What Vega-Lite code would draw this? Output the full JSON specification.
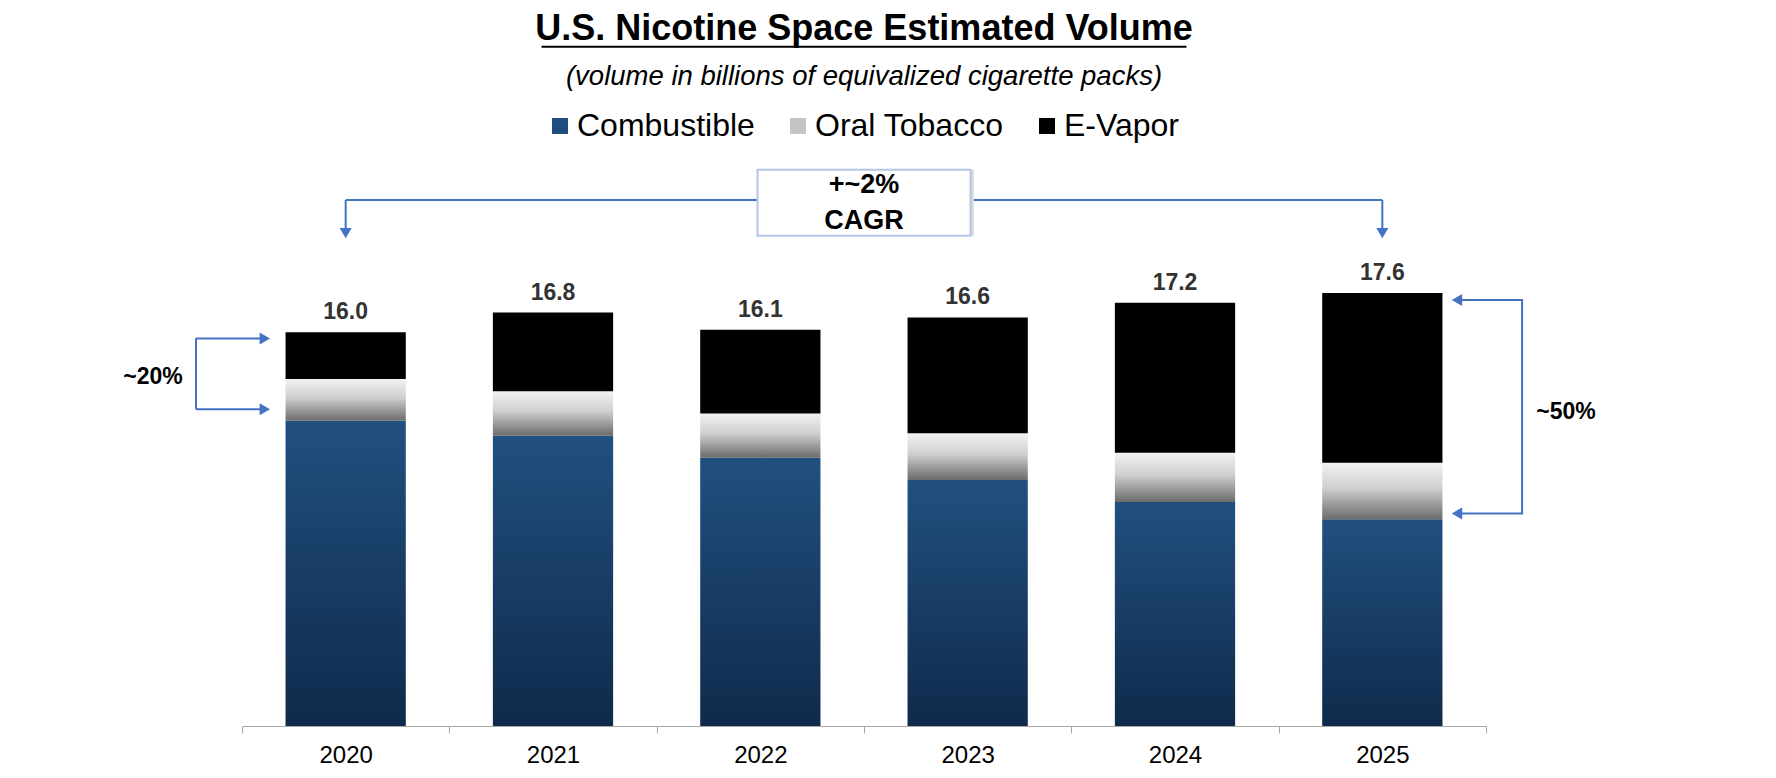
{
  "$schema": "https://vega.github.io/schema/vega-lite/v6.json",
  "autosize": "none",
  "width": 1244,
  "height": 566,
  "padding": {"left": 242, "top": 160, "right": 290, "bottom": 52},
  "background": "#ffffff",
  "config": {"view": {"stroke": null}, "font": "Liberation Sans"},
  "title": {
    "text": "U.S. Nicotine Space Estimated Volume",
    "subtitle": "(volume in billions of equivalized cigarette packs)",
    "anchor": "middle",
    "frame": "group",
    "font": "Liberation Sans",
    "fontSize": 36,
    "fontWeight": "bold",
    "color": "#000000",
    "subtitleFont": "Liberation Sans",
    "subtitleFontSize": 27.5,
    "subtitleFontStyle": "italic",
    "subtitleColor": "#000000",
    "subtitlePadding": 15,
    "offset": -48.5
  },
  "datasets": {
    "volume": [
      {"year": "2020", "category": "Combustible", "rank": 1, "value": 12.4},
      {"year": "2020", "category": "Oral Tobacco", "rank": 2, "value": 1.7},
      {"year": "2020", "category": "E-Vapor", "rank": 3, "value": 1.9},
      {"year": "2021", "category": "Combustible", "rank": 1, "value": 11.8},
      {"year": "2021", "category": "Oral Tobacco", "rank": 2, "value": 1.8},
      {"year": "2021", "category": "E-Vapor", "rank": 3, "value": 3.2},
      {"year": "2022", "category": "Combustible", "rank": 1, "value": 10.9},
      {"year": "2022", "category": "Oral Tobacco", "rank": 2, "value": 1.8},
      {"year": "2022", "category": "E-Vapor", "rank": 3, "value": 3.4},
      {"year": "2023", "category": "Combustible", "rank": 1, "value": 10.0},
      {"year": "2023", "category": "Oral Tobacco", "rank": 2, "value": 1.9},
      {"year": "2023", "category": "E-Vapor", "rank": 3, "value": 4.7},
      {"year": "2024", "category": "Combustible", "rank": 1, "value": 9.1},
      {"year": "2024", "category": "Oral Tobacco", "rank": 2, "value": 2.0},
      {"year": "2024", "category": "E-Vapor", "rank": 3, "value": 6.1},
      {"year": "2025", "category": "Combustible", "rank": 1, "value": 8.4},
      {"year": "2025", "category": "Oral Tobacco", "rank": 2, "value": 2.3},
      {"year": "2025", "category": "E-Vapor", "rank": 3, "value": 6.9}
    ],
    "cagrLine": [{"from": "2020", "to": "2025", "y": 21.37}],
    "cagrDrops": [{"year": "2020", "y": 21.37, "y2": 20.03}, {"year": "2025", "y": 21.37, "y2": 20.03}],
    "box": [{"year": "2022", "y": 21.26}],
    "boxText": [{"year": "2022", "y": 21.98, "text": "+~2%"}, {"year": "2022", "y": 20.53, "text": "CAGR"}],
    "leftBracket": [{"year": "2020", "top": 15.75, "bottom": 12.87}],
    "leftEnds": [{"year": "2020", "y": 15.75}, {"year": "2020", "y": 12.87}],
    "leftLabel": [{"year": "2020", "y": 14.19, "text": "~20%"}],
    "rightBracket": [{"year": "2025", "top": 17.31, "bottom": 8.64}],
    "rightEnds": [{"year": "2025", "y": 17.31}, {"year": "2025", "y": 8.64}],
    "rightLabel": [{"year": "2025", "y": 12.77, "text": "~50%"}],
    "underline": [{"year": "2022", "y": 27.6}]
  },
  "layer": [
    {
      "data": {"name": "volume"},
      "mark": {"type": "bar", "width": {"band": 0.58}},
      "encoding": {
        "x": {
          "field": "year", "type": "nominal",
          "scale": {"type": "band", "domain": ["2020", "2021", "2022", "2023", "2024", "2025"], "paddingInner": 0, "paddingOuter": 0},
          "axis": {"title": null, "orient": "bottom", "labelAngle": 0, "domainColor": "#a6a6a6", "domainWidth": 1, "tickColor": "#a6a6a6", "tickSize": 7, "tickBand": "extent", "labelFontSize": 24, "labelFont": "Liberation Sans", "labelColor": "#000000", "labelPadding": 10, "grid": false}
        },
        "y": {"field": "value", "type": "quantitative", "stack": "zero", "scale": {"domain": [0, 23], "nice": false}, "axis": null},
        "order": {"field": "rank", "type": "quantitative", "sort": "ascending"},
        "color": {
          "field": "category", "type": "nominal",
          "sort": ["Combustible", "Oral Tobacco", "E-Vapor"],
          "scale": {"domain": ["Combustible", "Oral Tobacco", "E-Vapor"], "range": ["#1f4e7e", "#c4c4c4", "#000000"]},
          "condition": [
            {"test": "datum.category === 'Combustible'", "value": {"gradient": "linear", "x1": 0, "y1": 0, "x2": 0, "y2": 1, "stops": [{"offset": 0, "color": "#21507f"}, {"offset": 1, "color": "#0f2a4b"}]}},
            {"test": "datum.category === 'Oral Tobacco'", "value": {"gradient": "linear", "x1": 0, "y1": 0, "x2": 0, "y2": 1, "stops": [{"offset": 0, "color": "#f2f2f2"}, {"offset": 0.45, "color": "#cfcfcf"}, {"offset": 1, "color": "#6b6b6b"}]}}
          ],
          "legend": {
            "orient": "none", "legendX": 302, "legendY": -50, "direction": "horizontal", "title": null,
            "symbolType": "square", "symbolSize": 256, "symbolStrokeWidth": 0,
            "labelFontSize": 32, "labelFont": "Liberation Sans", "labelColor": "#000000", "labelOffset": 1, "labelLimit": 0, "columnPadding": 27,
            "encode": {"symbols": {"update": {"fill": [
              {"test": "datum.value === 'Combustible'", "value": {"gradient": "linear", "x1": 0, "y1": 0, "x2": 0, "y2": 1, "stops": [{"offset": 0, "color": "#24558a"}, {"offset": 1, "color": "#142f55"}]}},
              {"test": "datum.value === 'Oral Tobacco'", "value": {"gradient": "linear", "x1": 0, "y1": 0, "x2": 0, "y2": 1, "stops": [{"offset": 0, "color": "#f2f2f2"}, {"offset": 0.5, "color": "#c8c8c8"}, {"offset": 1, "color": "#6b6b6b"}]}},
              {"value": "#000000"}
            ]}}}
          }
        }
      }
    },
    {
      "data": {"name": "volume"},
      "mark": {"type": "text", "fontSize": 23, "fontWeight": "bold", "color": "#333333", "baseline": "alphabetic", "dy": -13, "font": "Liberation Sans"},
      "encoding": {
        "x": {"field": "year", "type": "nominal"},
        "y": {"aggregate": "sum", "field": "value", "type": "quantitative", "axis": null},
        "text": {"aggregate": "sum", "field": "value", "type": "quantitative", "format": ".1f"}
      }
    },
    {
      "data": {"name": "cagrLine"},
      "mark": {"type": "rule", "color": "#4472c4", "strokeWidth": 2},
      "encoding": {
        "x": {"field": "from", "type": "nominal"},
        "x2": {"field": "to"},
        "y": {"field": "y", "type": "quantitative", "axis": null}
      }
    },
    {
      "data": {"name": "cagrDrops"},
      "mark": {"type": "rule", "color": "#4472c4", "strokeWidth": 2},
      "encoding": {
        "x": {"field": "year", "type": "nominal"},
        "y": {"field": "y", "type": "quantitative", "axis": null},
        "y2": {"field": "y2"}
      }
    },
    {
      "data": {"name": "cagrDrops"},
      "mark": {"type": "point", "shape": "triangle-down", "filled": true, "size": 144, "color": "#4472c4", "opacity": 1},
      "encoding": {
        "x": {"field": "year", "type": "nominal"},
        "y": {"field": "y2", "type": "quantitative", "axis": null}
      }
    },
    {
      "data": {"name": "box"},
      "mark": {"type": "point", "shape": "M-1,-0.31L1,-0.31L1,0.31L-1,0.31Z", "size": 45369, "filled": true, "color": "#d9d9d9", "strokeWidth": 0, "opacity": 1},
      "encoding": {
        "x": {"field": "year", "type": "nominal", "bandPosition": 1.016},
        "y": {"field": "y", "type": "quantitative", "axis": null}
      }
    },
    {
      "data": {"name": "box"},
      "mark": {"type": "point", "shape": "M-1,-0.31L1,-0.31L1,0.31L-1,0.31Z", "size": 45369, "filled": true, "fill": "#ffffff", "stroke": "#b4c6e7", "strokeWidth": 2, "opacity": 1},
      "encoding": {
        "x": {"field": "year", "type": "nominal", "bandPosition": 1.0},
        "y": {"field": "y", "type": "quantitative", "axis": null}
      }
    },
    {
      "data": {"name": "boxText"},
      "mark": {"type": "text", "fontSize": 27, "fontWeight": "bold", "color": "#000000", "baseline": "middle", "font": "Liberation Sans"},
      "encoding": {
        "x": {"field": "year", "type": "nominal", "bandPosition": 1.0},
        "y": {"field": "y", "type": "quantitative", "axis": null},
        "text": {"field": "text"}
      }
    },
    {
      "data": {"name": "leftBracket"},
      "mark": {"type": "rule", "color": "#4472c4", "strokeWidth": 2},
      "encoding": {
        "x": {"field": "year", "type": "nominal", "bandPosition": -0.222},
        "y": {"field": "top", "type": "quantitative", "axis": null},
        "y2": {"field": "bottom"}
      }
    },
    {
      "data": {"name": "leftEnds"},
      "mark": {"type": "point", "shape": "M-1,0L1,0", "size": 4761, "filled": false, "color": "#4472c4", "strokeWidth": 2, "opacity": 1},
      "encoding": {
        "x": {"field": "year", "type": "nominal", "bandPosition": -0.056},
        "y": {"field": "y", "type": "quantitative", "axis": null}
      }
    },
    {
      "data": {"name": "leftEnds"},
      "mark": {"type": "point", "shape": "triangle-right", "filled": true, "size": 144, "color": "#4472c4", "opacity": 1},
      "encoding": {
        "x": {"field": "year", "type": "nominal", "bandPosition": 0.11},
        "y": {"field": "y", "type": "quantitative", "axis": null}
      }
    },
    {
      "data": {"name": "leftLabel"},
      "mark": {"type": "text", "fontSize": 23, "fontWeight": "bold", "color": "#000000", "baseline": "middle", "font": "Liberation Sans"},
      "encoding": {
        "x": {"field": "year", "type": "nominal", "bandPosition": -0.429},
        "y": {"field": "y", "type": "quantitative", "axis": null},
        "text": {"field": "text"}
      }
    },
    {
      "data": {"name": "rightBracket"},
      "mark": {"type": "rule", "color": "#4472c4", "strokeWidth": 2},
      "encoding": {
        "x": {"field": "year", "type": "nominal", "bandPosition": 1.174},
        "y": {"field": "top", "type": "quantitative", "axis": null},
        "y2": {"field": "bottom"}
      }
    },
    {
      "data": {"name": "rightEnds"},
      "mark": {"type": "point", "shape": "M-1,0L1,0", "size": 4489, "filled": false, "color": "#4472c4", "strokeWidth": 2, "opacity": 1},
      "encoding": {
        "x": {"field": "year", "type": "nominal", "bandPosition": 1.017},
        "y": {"field": "y", "type": "quantitative", "axis": null}
      }
    },
    {
      "data": {"name": "rightEnds"},
      "mark": {"type": "point", "shape": "triangle-left", "filled": true, "size": 144, "color": "#4472c4", "opacity": 1},
      "encoding": {
        "x": {"field": "year", "type": "nominal", "bandPosition": 0.86},
        "y": {"field": "y", "type": "quantitative", "axis": null}
      }
    },
    {
      "data": {"name": "rightLabel"},
      "mark": {"type": "text", "fontSize": 23, "fontWeight": "bold", "color": "#000000", "baseline": "middle", "font": "Liberation Sans"},
      "encoding": {
        "x": {"field": "year", "type": "nominal", "bandPosition": 1.386},
        "y": {"field": "y", "type": "quantitative", "axis": null},
        "text": {"field": "text"}
      }
    },
    {
      "data": {"name": "underline"},
      "mark": {"type": "point", "shape": "M-1,0L1,0", "size": 416025, "filled": false, "color": "#000000", "strokeWidth": 2, "opacity": 1},
      "encoding": {
        "x": {"field": "year", "type": "nominal", "bandPosition": 1.0},
        "y": {"field": "y", "type": "quantitative", "axis": null}
      }
    }
  ]
}
